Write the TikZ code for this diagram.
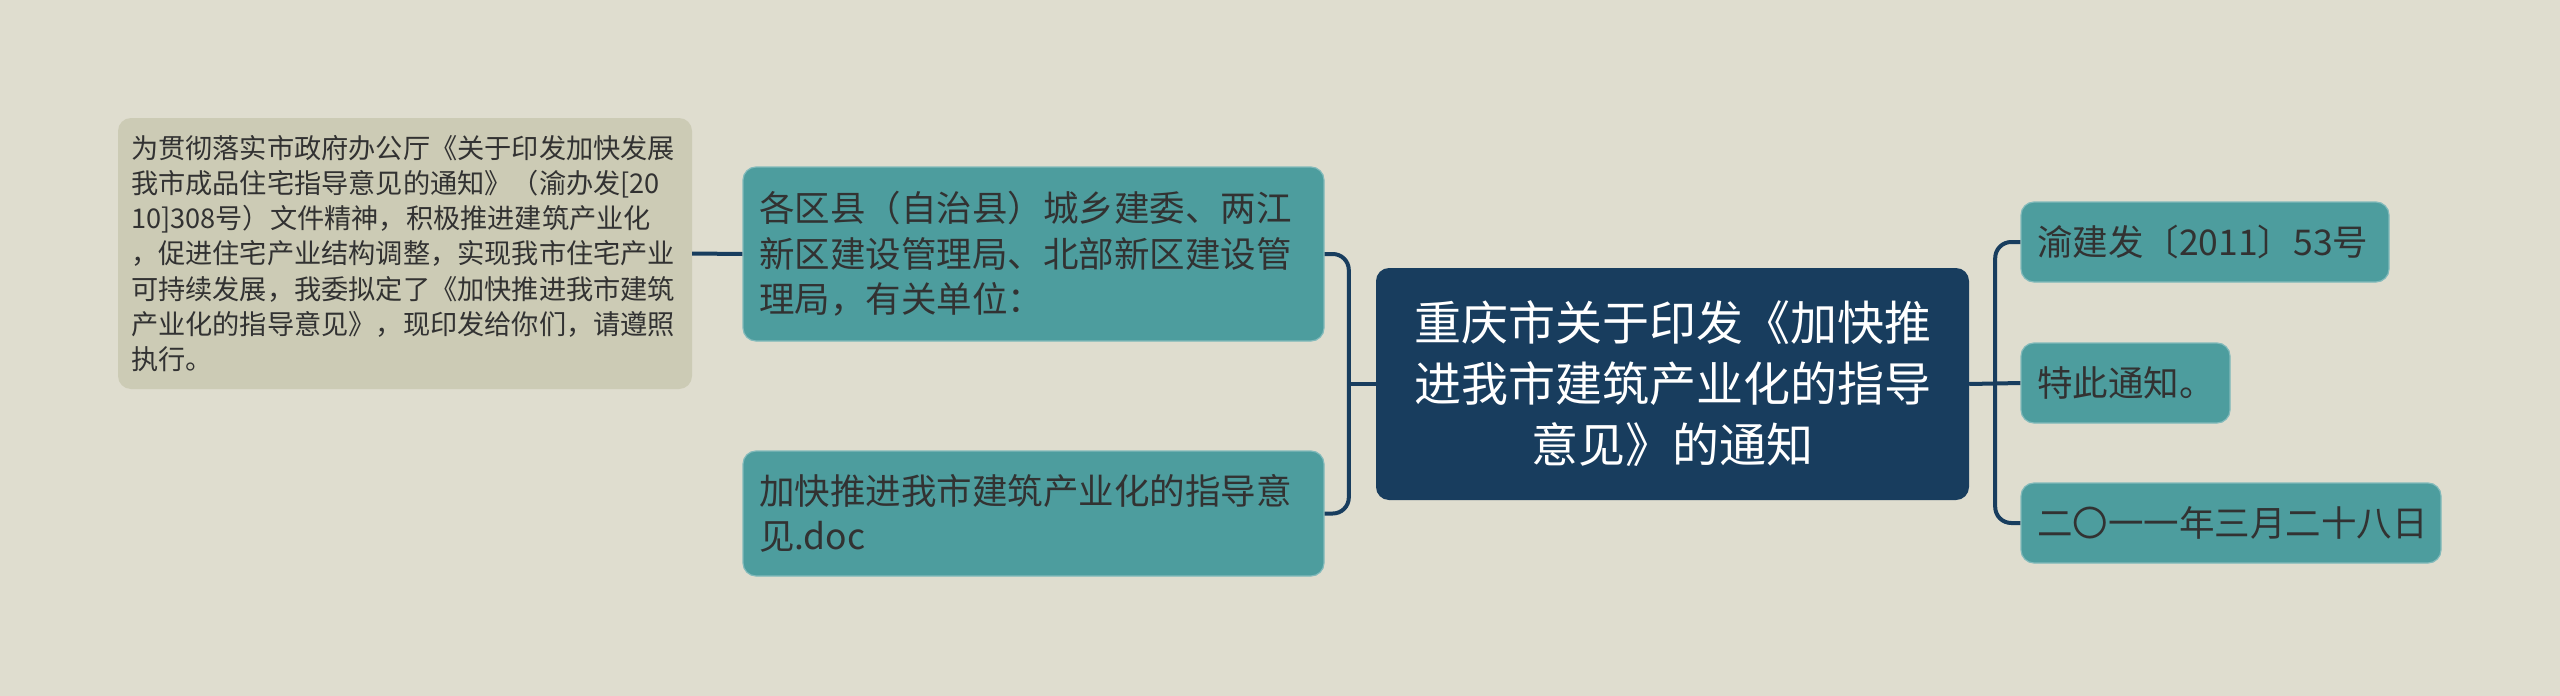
\documentclass[tikz,border=0pt]{standalone}
\usepackage{fontspec}
\setmainfont{Noto Sans CJK SC}
\usepackage{tikz}
\usetikzlibrary{calc}

\definecolor{bgcol}{RGB}{223,221,207}
\definecolor{notecol}{RGB}{204,203,181}
\definecolor{tealcol}{RGB}{77,157,158}
\definecolor{navycol}{RGB}{24,61,94}
\definecolor{inkcol}{RGB}{50,50,50}

\begin{document}
\begin{tikzpicture}
	[x=1pt,y=-1pt,
		base node/.style={rounded corners=13pt,inner ysep=0pt,anchor=center,align=left},
		note node/.style={base node,fill=notecol,text=inkcol,inner xsep=13pt,font=\fontsize{27.2pt}{35.3pt}\selectfont},
		sub node/.style={base node,fill=tealcol,draw=tealcol!70!white,line width=1.2pt,text=inkcol,inner xsep=16pt,font=\fontsize{35.5pt}{45.5pt}\selectfont},
		root node/.style={base node,fill=navycol,text=white,align=center,font=\fontsize{47pt}{61pt}\selectfont},
		link/.style={draw=navycol,line width=4pt,rounded corners=16pt}]

	\fill[bgcol] (0,0) rectangle (2560,696);

	\node[root node, minimum width=593pt, minimum height=232pt] (root) at (1672.5,384)
	{重庆市关于印发《加快推\\进我市建筑产业化的指导\\意见》的通知};

	\node[sub node, text width=549pt, minimum height=174pt] (units) at (1033.5,254)
	{各区县（自治县）城乡建委、两江\\新区建设管理局、北部新区建设管\\理局，有关单位：};
	\node[sub node, text width=549pt, minimum height=125pt] (doc) at (1033.5,513.5)
	{加快推进我市建筑产业化的指导意\\见.doc};

	\node[note node, text width=548pt, minimum height=271pt] (intro) at (405,253.5)
	{为贯彻落实市政府办公厅《关于印发加快发展\\我市成品住宅指导意见的通知》（渝办发[20\\10]308号）文件精神，积极推进建筑产业化\\，促进住宅产业结构调整，实现我市住宅产业\\可持续发展，我委拟定了《加快推进我市建筑\\产业化的指导意见》，现印发给你们，请遵照\\执行。};

	\node[sub node, text width=336pt, minimum height=80pt] (num) at (2205,242) {渝建发〔2011〕53号};
	\node[sub node, text width=177pt, minimum height=80pt] (end) at (2125.5,383) {特此通知。};
	\node[sub node, text width=388pt, minimum height=80pt] (date) at (2231,523) {二〇一一年三月二十八日};

	% left side
	\coordinate (lj) at ($(root.west)+(-27,0)$);
	\draw[link] (root.west) -- (lj);
	\draw[link] (units.east) -| (lj) |- (doc.east);
	\draw[link] (units.west) -- (intro.east);

	% right side
	\coordinate (rj) at ($(root.east)+(26,0)$);
	\draw[link] (root.east) -- (end.west);
	\draw[link] (num.west) -| (rj) |- (date.west);
\end{tikzpicture}
\end{document}
